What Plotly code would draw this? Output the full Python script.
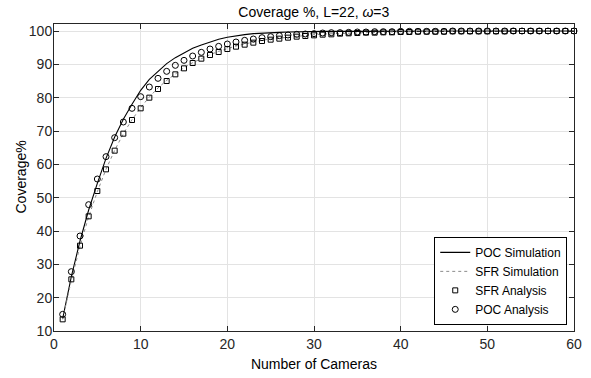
import plotly.graph_objects as go

# Number of cameras deployed
cameras = list(range(1, 61))

# Coverage (%) from the POC simulation
poc_sim = [13.7, 26.3, 37.0, 46.3, 54.3, 61.8, 68.2, 73.5, 78.0, 82.2,
           85.5, 88.0, 90.2, 92.0, 93.5, 94.8, 95.8, 96.7, 97.5, 98.1,
           98.6, 98.9, 99.2, 99.4, 99.5, 99.6, 99.7, 99.8, 99.8, 99.9,
           99.9, 99.9, 99.9, 99.9, 100.0, 100.0, 100.0, 100.0, 100.0, 100.0,
           100.0, 100.0, 100.0, 100.0, 100.0, 100.0, 100.0, 100.0, 100.0, 100.0,
           100.0, 100.0, 100.0, 100.0, 100.0, 100.0, 100.0, 100.0, 100.0, 100.0]

# Coverage (%) from the SFR simulation
sfr_sim = [13.5, 25.2, 35.4, 44.3, 51.8, 58.5, 64.2, 69.2, 73.4, 77.0,
           80.2, 82.9, 85.2, 87.2, 89.0, 90.5, 91.8, 92.9, 93.9, 94.8,
           95.5, 96.1, 96.7, 97.2, 97.6, 97.9, 98.2, 98.5, 98.7, 98.9,
           99.1, 99.2, 99.3, 99.4, 99.5, 99.6, 99.6, 99.7, 99.7, 99.8,
           99.8, 99.8, 99.9, 99.9, 99.9, 99.9, 99.9, 100.0, 100.0, 100.0,
           100.0, 100.0, 100.0, 100.0, 100.0, 100.0, 100.0, 100.0, 100.0, 100.0]

# Coverage (%) from the SFR analytical model
sfr_ana = [13.5, 25.5, 35.6, 44.4, 52.0, 58.5, 64.1, 69.2, 73.3, 76.8,
           80.0, 82.6, 85.0, 87.0, 88.8, 90.4, 91.7, 92.8, 93.7, 94.6,
           95.3, 95.9, 96.5, 97.0, 97.4, 97.7, 98.0, 98.3, 98.5, 98.7,
           98.9, 99.0, 99.2, 99.3, 99.4, 99.5, 99.5, 99.6, 99.6, 99.7,
           99.7, 99.8, 99.8, 99.8, 99.8, 99.9, 99.9, 99.9, 99.9, 99.9,
           99.9, 99.9, 100.0, 100.0, 100.0, 100.0, 100.0, 100.0, 100.0, 100.0]

# Coverage (%) from the POC analytical model
poc_ana = [15.0, 27.8, 38.5, 47.9, 55.6, 62.3, 68.0, 72.7, 76.8, 80.3,
           83.2, 85.8, 87.9, 89.7, 91.2, 92.5, 93.6, 94.6, 95.4, 96.1,
           96.7, 97.2, 97.6, 98.0, 98.3, 98.6, 98.8, 99.0, 99.1, 99.2,
           99.4, 99.5, 99.5, 99.6, 99.7, 99.7, 99.8, 99.8, 99.8, 99.9,
           99.9, 99.9, 99.9, 99.9, 99.9, 100.0, 100.0, 100.0, 100.0, 100.0,
           100.0, 100.0, 100.0, 100.0, 100.0, 100.0, 100.0, 100.0, 100.0, 100.0]

x_ticks = [0, 10, 20, 30, 40, 50, 60]
y_ticks = [10, 20, 30, 40, 50, 60, 70, 80, 90, 100]

FONT = "Liberation Sans, Arial, sans-serif"
AX = "#262626"

fig = go.Figure()
fig.add_trace(go.Scatter(x=cameras, y=poc_sim, mode="lines", name="POC Simulation",
                         line=dict(color="black", width=1.1), cliponaxis=False))
fig.add_trace(go.Scatter(x=cameras, y=sfr_sim, mode="lines", name="SFR Simulation",
                         line=dict(color="#8a8a8a", width=1, dash="dot"), cliponaxis=False))
fig.add_trace(go.Scatter(x=cameras, y=sfr_ana, mode="markers", name="SFR Analysis",
                         marker=dict(symbol="square-open", size=5, color="black",
                                     line=dict(width=1, color="black")), cliponaxis=False))
fig.add_trace(go.Scatter(x=cameras, y=poc_ana, mode="markers", name="POC Analysis",
                         marker=dict(symbol="circle-open", size=6, color="black",
                                     line=dict(width=1, color="black")), cliponaxis=False))

axis_common = dict(
    showline=True, linecolor=AX, linewidth=1, mirror="ticks",
    ticks="inside", ticklen=5, tickcolor=AX, tickwidth=1,
    showgrid=True, gridcolor="#e3e3e3", gridwidth=1, zeroline=False,
    tickfont=dict(family=FONT, size=14, color=AX), automargin=False,
)

fig.update_xaxes(range=[0, 60], tickvals=x_ticks,
                 title=dict(text="Number of Cameras", font=dict(family=FONT, size=14, color="black"),
                            standoff=8),
                 **axis_common)
fig.update_yaxes(range=[10, 102.1], tickvals=y_ticks, ticklabelstandoff=-2,
                 **axis_common)

fig.update_layout(
    width=591, height=378,
    margin=dict(l=54, r=17, t=24, b=47),
    paper_bgcolor="white", plot_bgcolor="white",
    title=dict(text="Coverage %, L=22, <i>ω</i>=3", x=0.531, xanchor="center",
               y=0.968, yanchor="middle", font=dict(family=FONT, size=14, color="black")),
    legend=dict(x=0.987, y=0.02, xanchor="right", yanchor="bottom",
                bgcolor="white", bordercolor="black", borderwidth=1,
                font=dict(family=FONT, size=12, color="black"),
                tracegroupgap=0, itemwidth=30),
    showlegend=True,
    annotations=[dict(text="Coverage%", textangle=-90, xref="paper", yref="paper",
                      x=0, y=0.5, xanchor="center", yanchor="middle", xshift=-34,
                      showarrow=False, font=dict(family=FONT, size=14, color="black"))],
)

fig.write_html("out.html")
